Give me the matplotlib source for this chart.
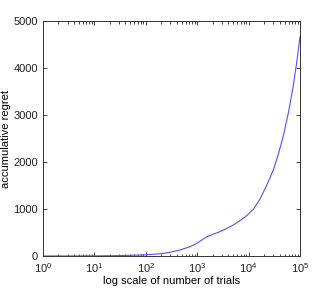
import matplotlib
matplotlib.use("Agg")
import matplotlib.pyplot as plt
import numpy as np
from matplotlib.ticker import LogLocator, NullFormatter

plt.rcParams['font.family'] = ['Liberation Sans', 'DejaVu Sans']

trials = [1, 3, 10, 30, 100, 200, 295, 465, 724, 980, 1230, 1520, 2000, 2770, 3800,
          5030, 7000, 9200, 12500, 16600, 22000, 30300, 38000, 47500, 60000, 74000,
          87000, 100000]
regret = [0, 1, 2, 8, 25, 50, 79, 128, 198, 270, 340, 405, 460, 517, 590,
          660, 760, 860, 1000, 1210, 1480, 1830, 2170, 2560, 3070, 3620,
          4150, 4670]

xticks = [1, 10, 100, 1000, 10000, 100000]
yticks = [0, 1000, 2000, 3000, 4000, 5000]

fig = plt.figure(figsize=(3.32, 2.91), dpi=100)
ax = fig.add_axes([43/332, 1-256/291, (300-43)/332, (256-21)/291])
ax.plot(trials, regret, color='#5050ff', lw=0.8)
ax.set_xscale('log')
ax.set_xlim(1, 1e5)
ax.set_ylim(0, 5000)
ax.set_xticks(xticks)
ax.xaxis.set_minor_locator(LogLocator(base=10, subs=np.arange(2, 10), numticks=20))
ax.xaxis.set_minor_formatter(NullFormatter())
ax.set_yticks(yticks)
ax.set_yticklabels([str(v) for v in yticks])
ax.tick_params(which='both', direction='in', top=True, right=True, labelsize=8, colors='#222222', width=0.6)
ax.tick_params(which='major', length=3)
ax.tick_params(which='minor', length=1.8)
for s in ax.spines.values():
    s.set_linewidth(0.7)
    s.set_color('#333333')
ax.set_xlabel('log scale of number of trials', fontsize=8, labelpad=1)
ax.set_ylabel('accumulative regret', fontsize=8, labelpad=2)
fig.savefig('out.png', dpi=100)
